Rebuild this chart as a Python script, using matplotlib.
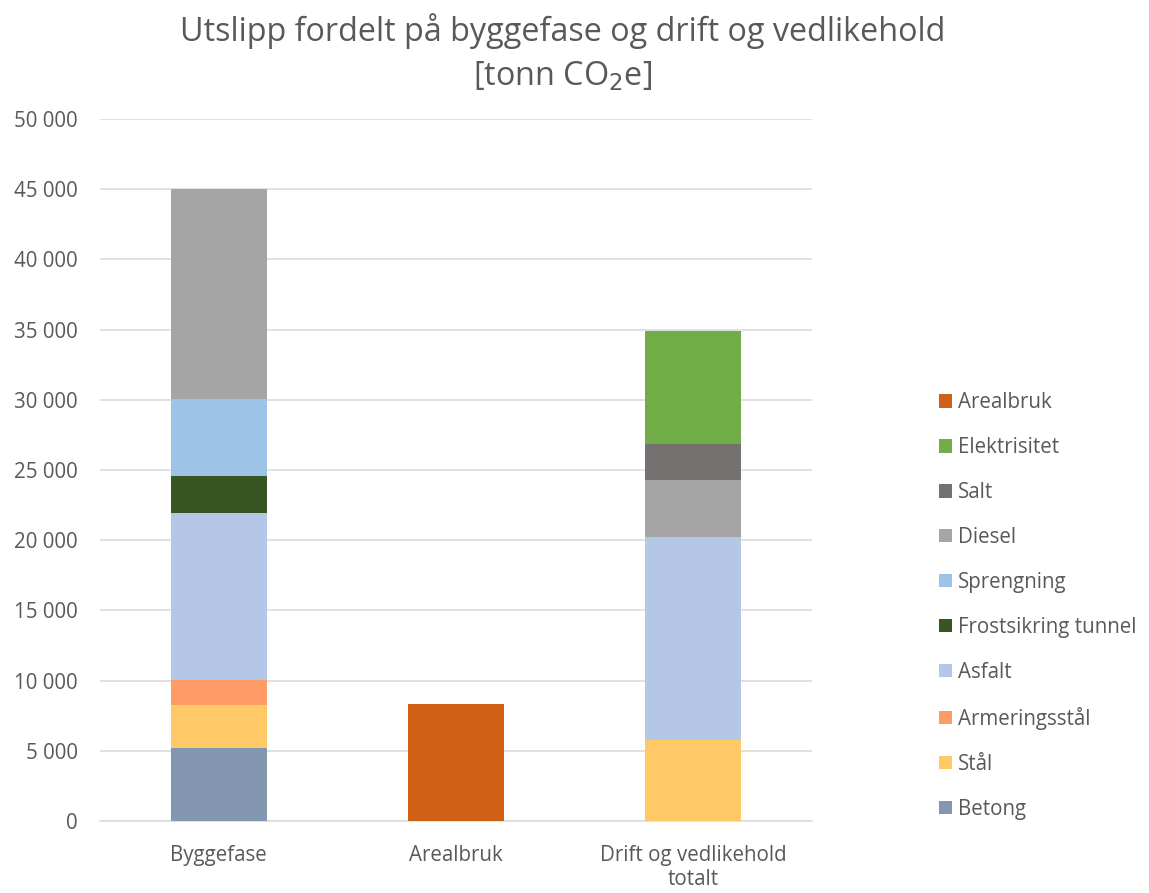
import matplotlib
matplotlib.use("Agg")
import matplotlib.pyplot as plt
import numpy as np
from matplotlib.patches import Patch
from matplotlib.ticker import FuncFormatter

categories = ["Byggefase", "Arealbruk", "Drift og vedlikehold\ntotalt"]

# stacking order from bottom to top
series = ["Betong", "Stål", "Armeringsstål", "Asfalt", "Frostsikring tunnel",
          "Sprengning", "Diesel", "Salt", "Elektrisitet", "Arealbruk"]
betong = [5220, 0, 0]
staal = [3030, 0, 5770]
armering = [1830, 0, 0]
asfalt = [11880, 0, 14490]
frost = [2580, 0, 0]
sprengning = [5520, 0, 0]
diesel = [14950, 0, 4040]
salt = [0, 0, 2570]
elektrisitet = [0, 0, 8030]
arealbruk = [0, 8370, 0]
values = [betong, staal, armering, asfalt, frost, sprengning, diesel, salt,
          elektrisitet, arealbruk]
colors = ["#8497B0", "#FFCA66", "#FF9B66", "#B4C7E7", "#375623",
          "#9DC3E6", "#A5A5A5", "#767171", "#70AD47", "#D06015"]

plt.rcParams["font.family"] = ["Open Sans", "DejaVu Sans"]
TXT = "#595959"

fig = plt.figure(figsize=(11.49, 8.93), dpi=100)
ax = fig.add_axes([0.087, 0.0806, 0.6197, 0.7861])

x = np.arange(len(categories))
bottom = np.zeros(len(categories))
for name, vals, c in zip(series, values, colors):
    vals = np.array(vals, dtype=float)
    ax.bar(x, vals, width=0.405, bottom=bottom, color=c, zorder=3)
    bottom += vals

ax.set_xlim(-0.5, 2.5)
ax.set_ylim(0, 50000)
ax.set_yticks(np.arange(0, 50001, 5000))
ax.yaxis.set_major_formatter(FuncFormatter(lambda v, _: f"{int(v):,}".replace(",", " ")))
ax.grid(axis="y", color="#D9D9D9", lw=1.1, zorder=0)
for s in ("top", "right", "left"):
    ax.spines[s].set_visible(False)
ax.spines["bottom"].set_color("#D9D9D9")
ax.spines["bottom"].set_linewidth(1.1)
ax.tick_params(length=0, labelsize=14.8, colors=TXT)
ax.tick_params(axis="y", pad=16)
ax.tick_params(axis="x", pad=17)
ax.set_xticks(x)
ax.set_xticklabels(categories, linespacing=1.2)

fig.text(0.49, 0.985, "Utslipp fordelt på byggefase og drift og vedlikehold",
         ha="center", va="top", fontsize=23.3, color=TXT)
fig.text(0.49, 0.933, r"[tonn CO$_2$e]", ha="center", va="top", fontsize=23.3,
         color=TXT)

handles = [Patch(facecolor=c, label=n) for n, c in zip(series, colors)][::-1]
leg = fig.legend(handles=handles, loc="upper left", bbox_to_anchor=(0.8015, 0.5815),
                 frameon=False, fontsize=14.8, labelspacing=1.165,
                 handlelength=0.62, handleheight=0.62, handletextpad=0.3)
for t in leg.get_texts():
    t.set_color(TXT)

fig.savefig("out.png", dpi=100)
